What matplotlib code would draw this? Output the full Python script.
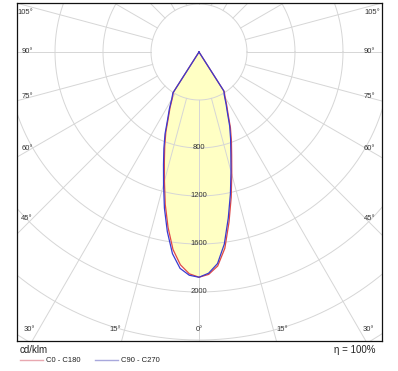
import numpy as np
import matplotlib
matplotlib.use("Agg")
import matplotlib.pyplot as plt
from matplotlib.lines import Line2D

plt.rcParams['font.family'] = ['Liberation Sans', 'DejaVu Sans']

# ---- data (cd/klm) ----
gamma = [0, 2.5, 5, 7.5, 10, 12.5, 15, 17.5, 20, 22.5, 25, 27.5, 30, 32.5, 35]
c0   = [1877, 1855, 1790, 1650, 1440, 1240, 1055, 905, 790, 685, 575, 500, 435, 392, 0]
c180 = [1877, 1850, 1780, 1660, 1485, 1300, 1113, 960, 835, 722, 605, 522, 445, 398, 0]
c90  = [1877, 1845, 1770, 1615, 1405, 1210, 1030, 882, 770, 668, 562, 488, 425, 385, 0]
c270 = [1877, 1862, 1810, 1695, 1520, 1332, 1141, 984, 856, 740, 618, 535, 455, 405, 0]

ring_values = [400, 800, 1200, 1600, 2000, 2400, 2800]
ring_labels = [800, 1200, 1600, 2000]
side_angles = [105, 90, 75, 60, 45]
bottom_angles = [-30, -15, 0, 15, 30]
legend_names = ["C0 - C180", "C90 - C270"]
unit_text = "cd/klm"
eta_text = "\u03b7 = 100%"

W, H = 398, 371
PX = 0.12          # pixels per cd
CX, CY = 199, 52   # centre in pixels
FL, FR, FT, FB = 17, 382, 2.7, 340.7

fig = plt.figure(figsize=(W / 100, H / 100), dpi=100)
ax = fig.add_axes([FL / W, 1 - FB / H, (FR - FL) / W, (FB - FT) / H])
ax.set_xlim((FL - CX) / PX, (FR - CX) / PX)
ax.set_ylim(-(FB - CY) / PX, -(FT - CY) / PX)
ax.set_xticks([]); ax.set_yticks([])
for s in ax.spines.values():
    s.set_color('#111111'); s.set_linewidth(0.9)

grid_c = '#d6d6d6'
t = np.linspace(0, 2 * np.pi, 721)
for r in ring_values:
    ax.plot(r * np.cos(t), r * np.sin(t), color=grid_c, lw=0.7, zorder=1)
for a in range(0, 360, 15):
    ar = np.radians(a)
    ax.plot([400 * np.sin(ar), 4000 * np.sin(ar)],
            [-400 * np.cos(ar), -4000 * np.cos(ar)], color=grid_c, lw=0.7, zorder=1)

g = np.radians(gamma)

def profile(left, right):
    left = np.asarray(left, float); right = np.asarray(right, float)
    xl = -left * np.sin(g); yl = -left * np.cos(g)
    xr = right * np.sin(g); yr = -right * np.cos(g)
    x = np.concatenate([xl[::-1], xr[1:]])
    y = np.concatenate([yl[::-1], yr[1:]])
    return x, y

x1, y1 = profile(c180, c0)
x2, y2 = profile(c270, c90)
ax.fill(x1, y1, color='#ffffc4', lw=0, zorder=0)
ax.plot(x1, y1, color='#e04848', lw=0.9, zorder=3)
ax.plot(x2, y2, color='#3a3ad0', lw=0.9, zorder=3)

tc = '#333333'
fs = 5.5
for v in ring_labels:
    ax.text(0, -v, str(v), ha='center', va='center', fontsize=fs, color=tc, zorder=4)

d = (CX - 32) / PX
ytop = (CY - 13) / PX
for a in side_angles:
    y = -d / np.tan(np.radians(a)) if a != 90 else 0.0
    y = min(y, ytop)
    ax.text((33 - CX) / PX, y, f"{a}°", ha='right', va='center', fontsize=fs, color=tc)
    ax.text((364 - CX) / PX, y, f"{a}°", ha='left', va='center', fontsize=fs, color=tc)

yb = -(330 - CY) / PX
off = 3 / PX
for a in bottom_angles:
    x = -yb * np.tan(np.radians(a))
    if a < 0:
        ax.text(x - off, yb, f"{abs(a)}°", ha='right', va='center', fontsize=fs, color=tc)
    elif a > 0:
        ax.text(x + off, yb, f"{a}°", ha='left', va='center', fontsize=fs, color=tc)
    else:
        ax.text(x, yb, "0°", ha='center', va='center', fontsize=fs, color=tc)

fig.text(20 / W, 1 - 350 / H, unit_text, ha='left', va='center', fontsize=7, color='#222222')
fig.text(376 / W, 1 - 350 / H, eta_text, ha='right', va='center', fontsize=7, color='#222222')
leg_cols = ['#e8a8b0', '#a8a8dc']
for (x0, x1_), name, col in zip([(20, 43), (95, 118)], legend_names, leg_cols):
    fig.add_artist(Line2D([x0 / W, x1_ / W], [1 - 360 / H, 1 - 360 / H], color=col, lw=1.0))
    fig.text((x1_ + 3) / W, 1 - 360 / H, name, ha='left', va='center', fontsize=5.5, color='#222222')

fig.savefig("out.png", dpi=100)
